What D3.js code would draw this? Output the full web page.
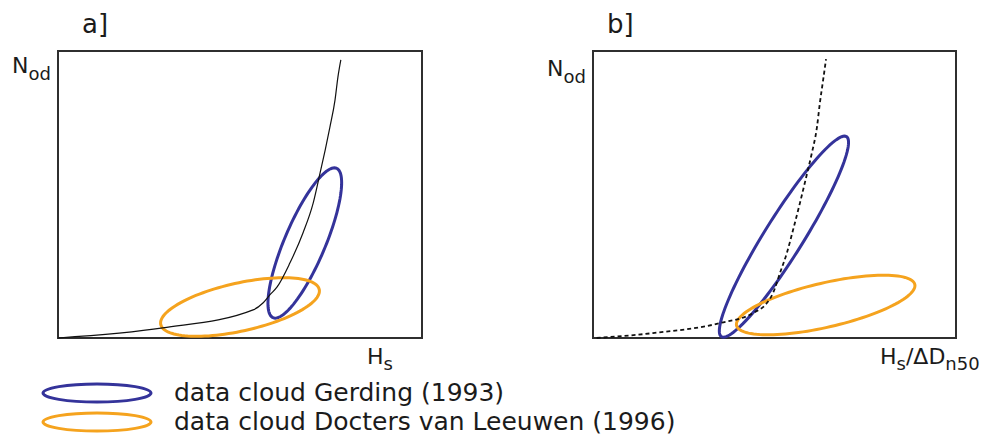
<!DOCTYPE html>
<html>
<head>
<meta charset="utf-8">
<script src="https://cdn.jsdelivr.net/npm/d3@7"></script>
<style>
  body { margin: 0; background: #fff; }
  text { font-family: "DejaVu Sans", Verdana, sans-serif; fill: #1b1b1b; }
</style>
</head>
<body>
<div id="container"></div>
<script>
const width = 992;
const height = 436;

//-----------------------------DATA-----------------------------//
// panel a: N_od against H_s (relative units 0..100)
const curveA_x = [0, 28.8, 53.6, 56.3, 58.2, 60.2, 63.7, 67.3, 70.1, 72.0, 73.4, 74.7, 76.1, 76.9, 77.7];
const curveA_y = [0, 3.5, 9.8, 12.2, 15.0, 17.8, 26.1, 36.6, 47.0, 57.5, 65.5, 73.5, 82.9, 90.9, 96.9];

// panel b: N_od against Hs/ΔDn50
const curveB_x = [1.0, 16.5, 35.0, 44.1, 47.9, 49.6, 51.5, 53.4, 55.1, 57.0, 59.0, 60.3, 61.7, 62.5, 63.4, 64.2];
const curveB_y = [0, 1.7, 5.2, 8.7, 12.2, 15.7, 22.6, 29.6, 37.6, 47.0, 57.5, 64.5, 73.5, 81.9, 89.9, 97.2];

// data clouds: centre, semi axes (x units), tilt in degrees
const cloudNames = ["data cloud Gerding (1993)", "data cloud Docters van Leeuwen (1996)"];
const cloudColors = ["#34339a", "#f5a31e"];
const cloudsA = [
  { cx: 67.8, cy: 33.1, a: 22.3, b: 5.6, tilt: 67 },
  { cx: 50.0, cy: 10.8, a: 22.3, b: 6.6, tilt: 12.5 }
];
const cloudsB = [
  { cx: 52.6, cy: 35.3, a: 32.5, b: 5.3, tilt: 58 },
  { cx: 64.1, cy: 11.5, a: 25.2, b: 6.1, tilt: 13 }
];

const panels = [
  { id: "a]", left: 58, right: 422, xs: curveA_x, ys: curveA_y, clouds: cloudsA, dashed: false },
  { id: "b]", left: 593, right: 956, xs: curveB_x, ys: curveB_y, clouds: cloudsB, dashed: true }
];
const plotTop = 51, plotBottom = 338;

const svg = d3.select("div#container").append("svg")
  .attr("width", width)
  .attr("height", height);

function ellipsePath(c, xScale, yScale) {
  const k = xScale(1) - xScale(0);
  const phi = c.tilt * Math.PI / 180;
  const pts = d3.range(0, 2 * Math.PI + 0.01, Math.PI / 60).map(t => {
    const u = c.a * Math.cos(t), v = c.b * Math.sin(t);
    return [xScale(c.cx) + k * (u * Math.cos(phi) - v * Math.sin(phi)),
            yScale(c.cy) - k * (u * Math.sin(phi) + v * Math.cos(phi))];
  });
  return d3.line().curve(d3.curveLinearClosed)(pts);
}

panels.forEach(p => {
  const xScale = d3.scaleLinear().domain([0, 100]).range([p.left, p.right]);
  const yScale = d3.scaleLinear().domain([0, 100]).range([plotBottom, plotTop]);
  const g = svg.append("g");

  // frame
  g.append("rect")
    .attr("x", xScale(0)).attr("y", yScale(100))
    .attr("width", xScale(100) - xScale(0))
    .attr("height", yScale(0) - yScale(100))
    .attr("fill", "none")
    .attr("stroke", "#2f2f2f")
    .attr("stroke-width", 2);

  // clouds
  p.clouds.forEach((c, i) => {
    g.append("path")
      .attr("d", ellipsePath(c, xScale, yScale))
      .attr("fill", "none")
      .attr("stroke", cloudColors[i])
      .attr("stroke-width", 3);
  });

  // trend line
  const line = d3.line()
    .curve(d3.curveMonotoneX)
    .x((d, i) => xScale(p.xs[i]))
    .y((d, i) => yScale(p.ys[i]));
  g.append("path")
    .attr("d", line(p.xs))
    .attr("fill", "none")
    .attr("stroke", "#111")
    .attr("stroke-width", p.dashed ? 1.8 : 1.2)
    .attr("stroke-dasharray", p.dashed ? "4,3" : null);

  // panel label
  g.append("text")
    .attr("x", p.left + (p.dashed ? 14 : 24))
    .attr("y", 33)
    .style("font-size", "26px")
    .text(p.id);

  // y label
  const ny = g.append("text")
    .attr("x", p.left - 46)
    .attr("y", p.dashed ? 76 : 73)
    .style("font-size", "22px");
  ny.append("tspan").text("N");
  ny.append("tspan").attr("dy", 7).style("font-size", "18px").text("od");
});

// x labels
const xa = svg.append("text").attr("x", 367).attr("y", 364).style("font-size", "22px");
xa.append("tspan").text("H");
xa.append("tspan").attr("dy", 6).style("font-size", "18px").text("s");

const xb = svg.append("text").attr("x", 880).attr("y", 364).style("font-size", "22px");
xb.append("tspan").text("H");
xb.append("tspan").attr("dy", 6).style("font-size", "18px").text("s");
xb.append("tspan").attr("dy", -6).text("/\u0394D");
xb.append("tspan").attr("dy", 6).style("font-size", "18px").text("n50");

//----------------------------LEGEND----------------------------//
const legend = svg.append("g");
cloudNames.forEach((name, i) => {
  const y = 393 + i * 29;
  legend.append("ellipse")
    .attr("cx", 97).attr("cy", y)
    .attr("rx", 54).attr("ry", 9)
    .attr("fill", "none")
    .attr("stroke", cloudColors[i])
    .attr("stroke-width", 3);
  legend.append("text")
    .attr("x", 174).attr("y", y + 1)
    .attr("dominant-baseline", "middle")
    .style("font-size", "25px")
    .text(name);
});
</script>
</body>
</html>
